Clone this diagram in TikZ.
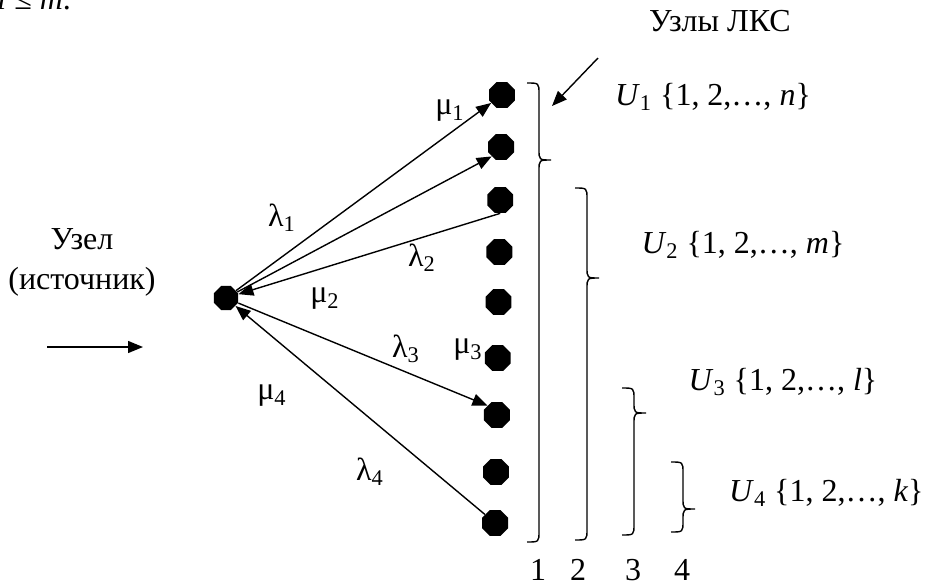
\documentclass[tikz,border=0pt]{standalone}
\usepackage{fontspec}
\setmainfont{Liberation Serif}
\usetikzlibrary{positioning,arrows.meta,shapes.geometric}

\begin{document}
\begin{tikzpicture}[x=0.5pt,y=-0.5pt,font=\fontsize{16}{20}\selectfont,
  dot/.style={regular polygon,regular polygon sides=8,fill=black,inner sep=0pt,minimum size=14pt},
  arr/.style={line width=0.7pt,-{Triangle[length=7.5pt,width=6pt]}},
  brace/.style={line width=0.7pt}]
\useasboundingbox (0,0) rectangle (928,585);
\node[anchor=base east] (cond) at (78,9) {\textit{l} ≤ \textit{m}.};
% source node and nodes of the network
\node[dot,minimum size=13pt] (src) at (226,298) {};
\foreach \y [count=\i] in {95,147,200,252,302,358,415,472,523}
  \node[dot] (n\i) at ({502.8-0.85*\i},\y) {};
\node[align=center] (srclbl) at (82,262) {Узел\\(источник)};
\node (lks) at (720,21) {Узлы ЛКС};
% flows
\draw[arr] (src) -- (n1);
\draw[arr] (src) -- (n2.south west);
\draw[arr] (n3.south) -- (src);
\draw[arr] (src) -- (n7.north west);
\draw[arr] (n9) -- (src);
\node (lam1) at (282,218) {λ\textsubscript{1}};
\node (mu1) at (450,111) {μ\textsubscript{1}};
\node (lam2) at (422,258) {λ\textsubscript{2}};
\node (mu2) at (325,299) {μ\textsubscript{2}};
\node (lam3) at (406,349) {λ\textsubscript{3}};
\node (mu3) at (468,350) {μ\textsubscript{3}};
\node (mu4) at (272,396) {μ\textsubscript{4}};
\node (lam4) at (370,472) {λ\textsubscript{4}};
\coordinate (in0) at (47,347);
\coordinate (in1) at (143,347);
\draw[arr] (in0) -- (in1);
\coordinate (lksA) at (598,58);
\coordinate (lksB) at (552,106);
\draw[arr] (lksA) -- (lksB);
% braces
\foreach \xa/\yt/\yp/\yb in {527/83/160/542,575/188/278/540,622/388/413/535,671/462/509/532}
  \draw[brace] (\xa,\yt) .. controls ({\xa+12},\yt) .. ({\xa+12},{\yt+11}) -- ({\xa+12},{\yp-11})
    .. controls ({\xa+12},\yp) .. ({\xa+24},\yp) .. controls ({\xa+12},\yp) .. ({\xa+12},{\yp+11})
    -- ({\xa+12},{\yb-11}) .. controls ({\xa+12},\yb) .. (\xa,\yb);
\node (u1) at (713,97) {\textit{U}\textsubscript{1} \{1, 2,…, \textit{n}\}};
\node (u2) at (743,245) {\textit{U}\textsubscript{2} \{1, 2,…, \textit{m}\}};
\node (u3) at (783,382) {\textit{U}\textsubscript{3} \{1, 2,…, \textit{l}\}};
\node[anchor=east,inner sep=1pt] (u4) at (926,493) {\textit{U}\textsubscript{4} \{1, 2,…, \textit{k}\}};
\node (c1) at (538,570) {1};
\node (c2) at (578,570) {2};
\node (c3) at (633,570) {3};
\node (c4) at (682,570) {4};
\end{tikzpicture}
\end{document}
